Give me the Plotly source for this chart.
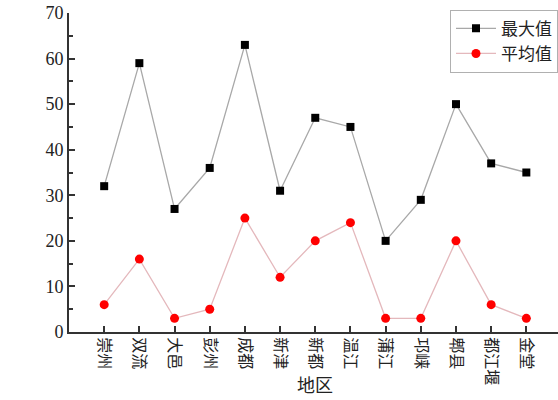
import plotly.graph_objects as go

regions = ["崇州", "双流", "大邑", "彭州", "成都", "新津", "新都", "温江", "蒲江", "邛崃", "郫县", "都江堰", "金堂"]
max_vals = [32, 59, 27, 36, 63, 31, 47, 45, 20, 29, 50, 37, 35]
avg_vals = [6, 16, 3, 5, 25, 12, 20, 24, 3, 3, 20, 6, 3]
y_ticks = [0, 10, 20, 30, 40, 50, 60, 70]

FONT = "Liberation Serif, Noto Sans CJK SC"
pos = list(range(1, len(regions) + 1))

fig = go.Figure()
fig.add_trace(go.Scatter(
    x=pos, y=max_vals, name="最大值", mode="lines+markers",
    line=dict(color="#a8a8a8", width=1.3),
    marker=dict(symbol="square", color="black", size=8),
))
fig.add_trace(go.Scatter(
    x=pos, y=avg_vals, name="平均值", mode="lines+markers",
    line=dict(color="#e4b8bc", width=1.3),
    marker=dict(symbol="circle", color="#ff0000", size=9),
))

fig.update_layout(
    width=558, height=400,
    margin=dict(l=69, r=0, t=13, b=68, autoexpand=False),
    paper_bgcolor="white", plot_bgcolor="white",
    font=dict(family=FONT, color="#222222", size=15),
    showlegend=True,
    legend=dict(
        x=1.0, y=1.01, xanchor="right", yanchor="top",
        bordercolor="#b0b0b0", borderwidth=1, bgcolor="white",
        font=dict(size=17, family=FONT), tracegroupgap=0,
        itemwidth=40,
    ),
    xaxis=dict(
        range=[0, 13.9], tickmode="array", tickvals=pos, ticktext=regions,
        tickangle=90, ticks="inside", ticklen=6, tickwidth=2, tickcolor="#333333",
        showline=True, linecolor="#333333", linewidth=2, showgrid=False, zeroline=False,
        tickfont=dict(size=16, family=FONT), automargin=False,
    ),
    yaxis=dict(
        range=[0, 70], tickmode="array", tickvals=y_ticks,
        ticks="inside", ticklen=6, tickwidth=2, tickcolor="#333333",
        minor=dict(tickmode="array", tickvals=[5, 15, 25, 35, 45, 55, 65], ticks="inside", ticklen=4, tickcolor="#333333", tickwidth=1.5),
        showline=True, linecolor="#333333", linewidth=2, showgrid=False, zeroline=False,
        tickfont=dict(size=18, family=FONT), automargin=False,
    ),
    annotations=[
        dict(text="地区", x=315, y=386, xref="paper", yref="paper", showarrow=False,
             font=dict(size=18, family=FONT)),
        dict(text="夜间灯光DN值", x=20, y=166, textangle=-90, showarrow=False,
             font=dict(size=18, family=FONT)),
    ],
)
# convert pixel annotation positions to paper coords
pw, ph = 558 - 69 - 0, 400 - 13 - 68
for a in fig.layout.annotations:
    px, py = a.x, a.y
    a.x = (px - 69) / pw
    a.y = (400 - 68 - py) / ph
    a.xanchor = "center"; a.yanchor = "middle"

fig.write_html("out.html", config={"displayModeBar": False},
               post_script="document.body.style.margin='0';document.body.style.overflow='hidden';")
